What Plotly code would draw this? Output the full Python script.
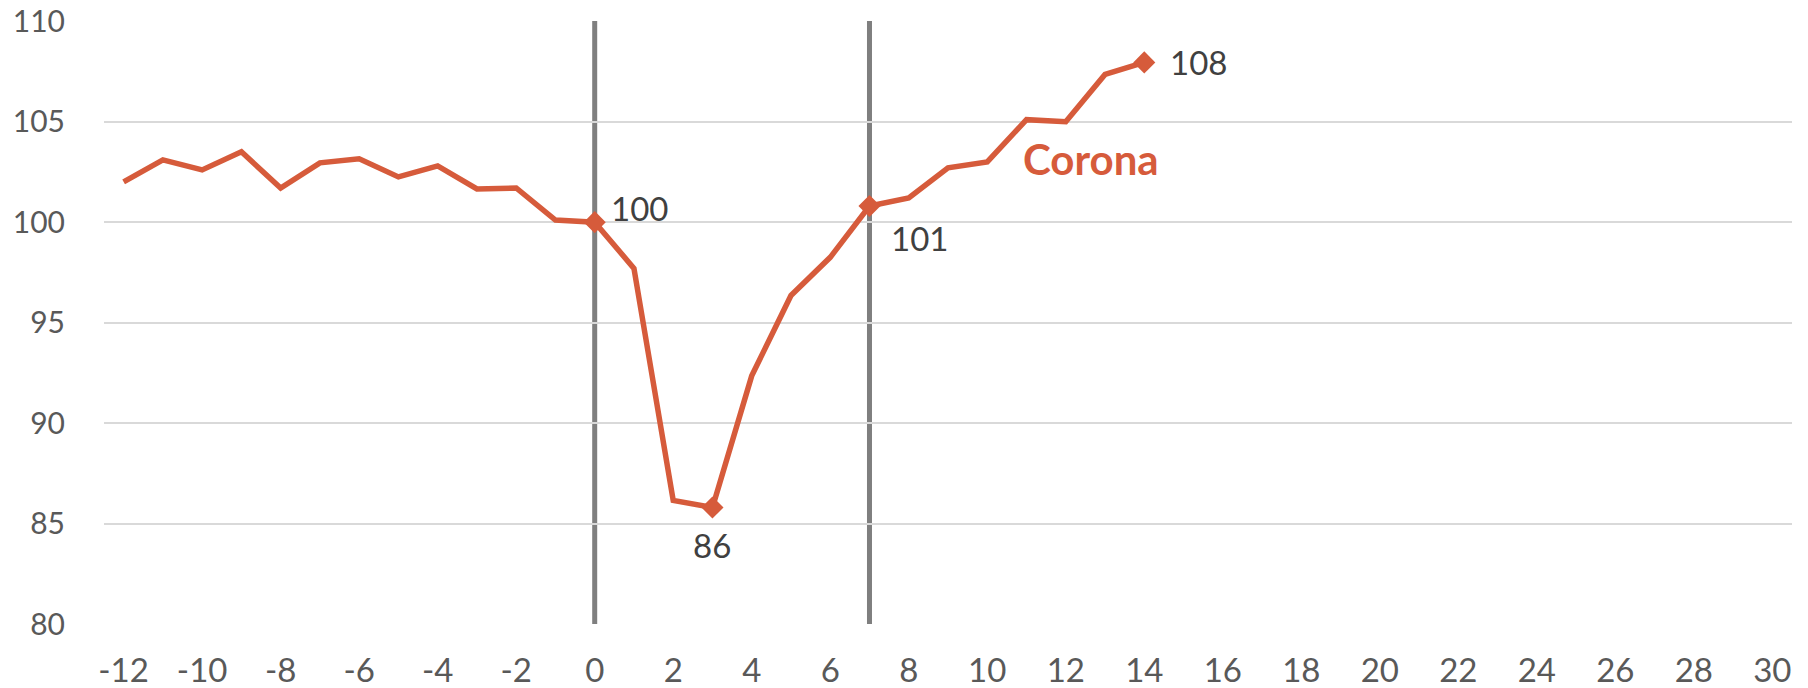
import plotly.graph_objects as go

# ─── Data ─────────────────────────────────────────────────────────────
months = list(range(-12, 15))
corona = [102.0, 103.1, 102.6, 103.5, 101.7, 102.95, 103.15, 102.25, 102.8,
          101.65, 101.7, 100.1, 100.0, 97.7, 86.15, 85.8, 92.35, 96.35, 98.25,
          100.8, 101.2, 102.7, 103.0, 105.1, 105.0, 107.35, 107.95]
events = [0, 7]
marked = [0, 3, 7, 14]
marked_text = ["100", "86", "101", "108"]
x_ticks = list(range(-12, 31, 2))
y_ticks = [80, 85, 90, 95, 100, 105, 110]

ORANGE = "#D65B3B"
FONT = "Lato, 'Open Sans', sans-serif"

fig = go.Figure()

fig.add_trace(go.Scatter(
    x=months, y=corona, mode="lines",
    line=dict(color=ORANGE, width=5.5),
    hoverinfo="x+y", showlegend=False,
))
fig.add_trace(go.Scatter(
    x=marked, y=[corona[months.index(m)] for m in marked], mode="markers",
    marker=dict(symbol="diamond", size=17, color=ORANGE),
    hoverinfo="skip", showlegend=False,
))

# event lines
for e in events:
    fig.add_shape(type="line", xref="x", yref="paper", x0=e, x1=e, y0=0, y1=1,
                  line=dict(color="#7F7F7F", width=5), layer="below")

# data labels (shift in px, anchor)
offsets = {0: (14, 14, "left"), 3: (0, -38, "center"), 7: (20, -32, "left"), 14: (24, 0, "left")}
for m, t in zip(marked, marked_text):
    dx, dy, anchor = offsets[m]
    fig.add_annotation(
        x=m, y=corona[months.index(m)], text=t, showarrow=False,
        xshift=dx, yshift=dy, xanchor=anchor,
        font=dict(family=FONT, size=33, color="#404040"),
    )

fig.add_annotation(
    x=12.65, y=103.15, text="<b>Corona</b>", showarrow=False,
    font=dict(family=FONT, size=42, color=ORANGE),
)

# page body adds an 8px offset, margins account for it
fig.update_layout(
    width=1808, height=688,
    paper_bgcolor="white", plot_bgcolor="white",
    margin=dict(l=96, r=24, t=13, b=72),
    font=dict(family=FONT, size=33, color="#595959"),
    xaxis=dict(
        range=[-12.5, 30.5], tickvals=x_ticks, ticktext=[str(v) for v in x_ticks],
        showgrid=False, zeroline=False, showline=False, ticks="",
        ticklabelstandoff=24, automargin=False, ticklabeloverflow="allow",
        tickfont=dict(size=33, color="#595959"),
    ),
    yaxis=dict(
        range=[80, 110.01], tickvals=y_ticks, showgrid=True, gridcolor="#D9D9D9",
        gridwidth=2, zeroline=False, showline=False, ticks="",
        ticklabelstandoff=38, automargin=False, ticklabeloverflow="allow",
        tickfont=dict(size=30, color="#595959"),
    ),
    showlegend=False,
)

fig.write_html("out.html")
